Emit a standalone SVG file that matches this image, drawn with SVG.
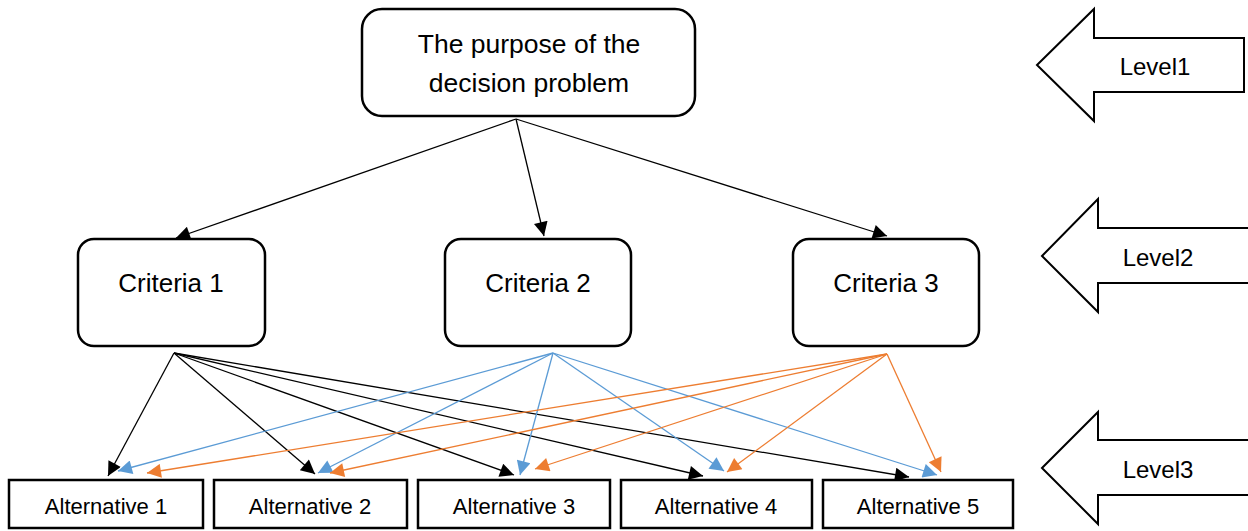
<svg xmlns="http://www.w3.org/2000/svg" width="1248" height="531" viewBox="0 0 1248 531">
  <style>
    .box { fill: #ffffff; stroke: #000000; stroke-width: 2.5; }
    .lbl { font-family: "Liberation Sans", Arial, sans-serif; fill: #000000; text-anchor: middle; }
    .c-black { stroke: #000000; stroke-width: 1.3; fill: none; }
    .c-blue { stroke: #5B9BD5; stroke-width: 1.3; fill: none; }
    .c-orange { stroke: #ED7D31; stroke-width: 1.3; fill: none; }
    .level { fill: #ffffff; stroke: #000000; stroke-width: 2; stroke-linejoin: miter; }
  </style>
  <defs>
    <marker id="ah-black" viewBox="0 0 10 10" refX="10" refY="5" markerWidth="16" markerHeight="14" markerUnits="userSpaceOnUse" orient="auto">
      <path d="M0,0 L10,5 L0,10 Z" fill="#000000"/>
    </marker>
    <marker id="ah-blue" viewBox="0 0 10 10" refX="10" refY="5" markerWidth="16" markerHeight="14" markerUnits="userSpaceOnUse" orient="auto">
      <path d="M0,0 L10,5 L0,10 Z" fill="#5B9BD5"/>
    </marker>
    <marker id="ah-orange" viewBox="0 0 10 10" refX="10" refY="5" markerWidth="16" markerHeight="14" markerUnits="userSpaceOnUse" orient="auto">
      <path d="M0,0 L10,5 L0,10 Z" fill="#ED7D31"/>
    </marker>
  </defs>

  <!-- connectors -->
  <g id="connectors">
    <!-- goal to criteria -->
    <line class="c-black" x1="516" y1="119" x2="176" y2="238" marker-end="url(#ah-black)"/>
    <line class="c-black" x1="516" y1="119" x2="544" y2="236" marker-end="url(#ah-black)"/>
    <line class="c-black" x1="516" y1="119" x2="887" y2="236" marker-end="url(#ah-black)"/>
    <!-- criteria 1 to alternatives -->
    <line class="c-black" x1="174" y1="353" x2="108" y2="476" marker-end="url(#ah-black)"/>
    <line class="c-black" x1="174" y1="353" x2="315" y2="474" marker-end="url(#ah-black)"/>
    <line class="c-black" x1="174" y1="353" x2="514" y2="475" marker-end="url(#ah-black)"/>
    <line class="c-black" x1="174" y1="353" x2="703" y2="476" marker-end="url(#ah-black)"/>
    <line class="c-black" x1="174" y1="353" x2="909" y2="477" marker-end="url(#ah-black)"/>
    <!-- criteria 2 to alternatives -->
    <line class="c-blue" x1="553" y1="353" x2="118" y2="471" marker-end="url(#ah-blue)"/>
    <line class="c-blue" x1="553" y1="353" x2="318" y2="473" marker-end="url(#ah-blue)"/>
    <line class="c-blue" x1="553" y1="353" x2="520" y2="475" marker-end="url(#ah-blue)"/>
    <line class="c-blue" x1="553" y1="353" x2="724" y2="471" marker-end="url(#ah-blue)"/>
    <line class="c-blue" x1="553" y1="353" x2="937" y2="475" marker-end="url(#ah-blue)"/>
    <!-- criteria 3 to alternatives -->
    <line class="c-orange" x1="887" y1="354" x2="147" y2="473" marker-end="url(#ah-orange)"/>
    <line class="c-orange" x1="887" y1="354" x2="330" y2="473" marker-end="url(#ah-orange)"/>
    <line class="c-orange" x1="887" y1="354" x2="535" y2="469" marker-end="url(#ah-orange)"/>
    <line class="c-orange" x1="887" y1="354" x2="727" y2="472" marker-end="url(#ah-orange)"/>
    <line class="c-orange" x1="887" y1="354" x2="941" y2="472" marker-end="url(#ah-orange)"/>
  </g>

  <!-- goal -->
  <g id="goal">
    <rect class="box" x="362" y="9" width="333" height="107" rx="20" ry="20"/>
    <text class="lbl" x="529" y="53" font-size="26.5">The purpose of the</text>
    <text class="lbl" x="529" y="92" font-size="26.5">decision problem</text>
  </g>

  <!-- criteria -->
  <g id="criteria-1">
    <rect class="box" x="78" y="239" width="187" height="107" rx="16" ry="16"/>
    <text class="lbl" x="171" y="292" font-size="26">Criteria 1</text>
  </g>
  <g id="criteria-2">
    <rect class="box" x="445" y="239" width="186" height="107" rx="16" ry="16"/>
    <text class="lbl" x="538" y="292" font-size="26">Criteria 2</text>
  </g>
  <g id="criteria-3">
    <rect class="box" x="793" y="239" width="186" height="107" rx="16" ry="16"/>
    <text class="lbl" x="886" y="292" font-size="26">Criteria 3</text>
  </g>

  <!-- alternatives -->
  <g id="alternative-1">
    <rect class="box" x="9" y="480" width="194" height="48"/>
    <text class="lbl" x="106" y="514" font-size="22">Alternative 1</text>
  </g>
  <g id="alternative-2">
    <rect class="box" x="214" y="480" width="193" height="48"/>
    <text class="lbl" x="310" y="514" font-size="22">Alternative 2</text>
  </g>
  <g id="alternative-3">
    <rect class="box" x="418" y="480" width="192" height="48"/>
    <text class="lbl" x="514" y="514" font-size="22">Alternative 3</text>
  </g>
  <g id="alternative-4">
    <rect class="box" x="621" y="480" width="191" height="48"/>
    <text class="lbl" x="716" y="514" font-size="22">Alternative 4</text>
  </g>
  <g id="alternative-5">
    <rect class="box" x="823" y="480" width="190" height="48"/>
    <text class="lbl" x="918" y="514" font-size="22">Alternative 5</text>
  </g>

  <!-- level markers -->
  <g id="level-1">
    <polygon class="level" points="1037,65 1094,9 1094,38 1244,38 1244,92 1094,92 1094,121"/>
    <text class="lbl" x="1155" y="75" font-size="24">Level1</text>
  </g>
  <g id="level-2">
    <polygon class="level" points="1042,256 1098,199 1098,228 1249,228 1249,283 1098,283 1098,312"/>
    <text class="lbl" x="1158" y="266" font-size="24">Level2</text>
  </g>
  <g id="level-3">
    <polygon class="level" points="1042,468 1098,412 1098,440 1249,440 1249,495 1098,495 1098,524"/>
    <text class="lbl" x="1158" y="478" font-size="24">Level3</text>
  </g>
</svg>
